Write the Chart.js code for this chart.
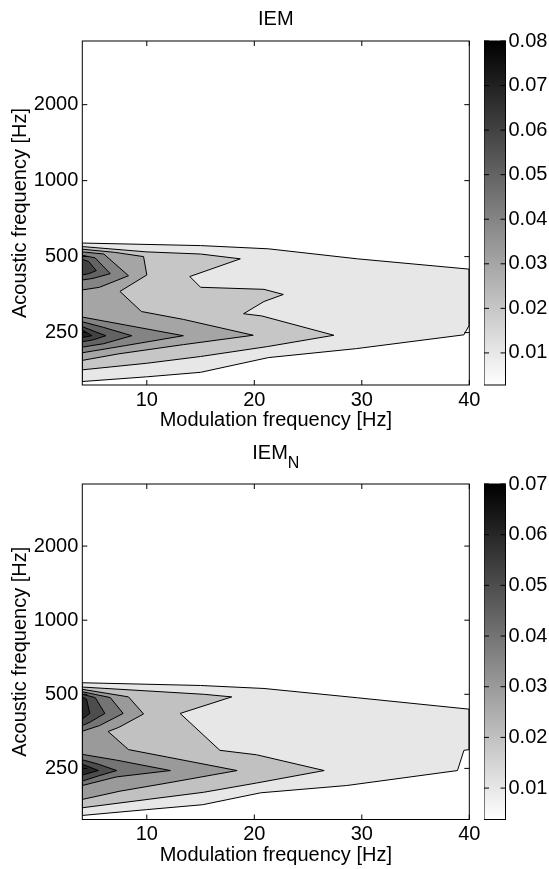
<!DOCTYPE html>
<html>
<head>
<meta charset="utf-8">
<script src="https://cdn.jsdelivr.net/npm/chart.js@4/dist/chart.umd.min.js"></script>
<style>
  html, body { margin: 0; padding: 0; background: #fff; }
  #page { position: relative; width: 549px; height: 869px; }
  canvas { position: absolute; }
</style>
</head>
<body>
<div id="page">
  <canvas id="iem-map" width="549" height="434" style="left:0;top:0"></canvas>
  <canvas id="iem-bar" width="65" height="434" style="left:484px;top:0"></canvas>
  <canvas id="iemn-map" width="549" height="435" style="left:0;top:434px"></canvas>
  <canvas id="iemn-bar" width="65" height="435" style="left:484px;top:434px"></canvas>
</div>
<script>
// axes
const modTicks = [10, 20, 30, 40];
const freqTicks = [250, 500, 1000, 2000];
const modRange = [4, 40];
const freqRange = [155, 3575];

// colour scales
const iemColorRange = [0.0028, 0.08];
const iemColorTicks = [0.01, 0.02, 0.03, 0.04, 0.05, 0.06, 0.07, 0.08];
const iemNColorRange = [0.0038, 0.07];
const iemNColorTicks = [0.01, 0.02, 0.03, 0.04, 0.05, 0.06, 0.07];

// IEM contours, [modulation Hz, acoustic Hz]
const iemLevel1 = [[4,566],[15,553],[21.3,537],[29.6,490],[40,446],[40,268],[39.5,245],[29.5,216],[21.3,199],[15,174],[10,167],[4,160],[4,566]];
const iemLevel2 = [[4,548],[10,522],[15,512],[18.7,490],[14,417],[15,378],[20.9,371],[22.7,354],[20.9,332],[19,297],[20.7,291],[27.4,244],[21.2,220],[15,201],[10,189],[4,178],[4,548]];
const iemLevel3 = [[4,535],[7,520],[9.7,500],[10,423],[7.5,364],[9.5,303],[13.4,282],[19.9,244],[13.4,224],[7.4,206],[4,194],[4,535]];
const iemLevel4Upper = [[4,522],[6,512],[8.3,420],[5.6,378],[4,369],[4,522]];
const iemLevel4Lower = [[4,288],[8,268],[13.4,243],[8,222],[4,208],[4,288]];
const iemLevel5Upper = [[4,506],[5.2,494],[6.6,428],[5,410],[4,404],[4,506]];
const iemLevel5Lower = [[4,276],[6,262],[8.6,243],[6,226],[4,219],[4,276]];
const iemLevel6Upper = [[4,488],[4.6,478],[5.3,440],[4.6,428],[4,423],[4,488]];
const iemLevel6Lower = [[4,264],[5,254],[6.2,243],[5,234],[4,230],[4,264]];
const iemLevel7Lower = [[4,256],[4.9,243],[4,239],[4,256]];

// IEM_N contours
const iemNLevel1 = [[4,557],[15,543],[20.9,528],[29.6,484],[40,435],[40,298],[39.5,296],[38.9,245],[28.6,213],[20.6,199],[15.2,178],[10,170],[4,161],[4,557]];
const iemNLevel2 = [[4,535],[15.3,500],[17.9,488],[13.1,418],[16.8,296],[20.2,284],[26.5,245],[20.2,218],[15.3,200],[4,173],[4,535]];
const iemNLevel3 = [[4,524],[8.3,488],[9.7,416],[7.4,367],[6.4,353],[8.3,298],[11.9,278],[18.4,245],[11.9,218],[7.5,202],[4,187],[4,524]];
const iemNLevel4Upper = [[4,512],[6.6,485],[7.8,418],[5.6,373],[4,354],[4,512]];
const iemNLevel4Lower = [[4,285],[7.2,270],[12.2,245],[7.2,231],[4,213],[4,285]];
const iemNLevel5Upper = [[4,500],[5.2,485],[6.1,418],[4.7,385],[4,373],[4,500]];
const iemNLevel5Lower = [[4,271],[5.5,260],[7.2,245],[5.5,233],[4,222],[4,271]];
const iemNLevel6Upper = [[4,488],[4.4,477],[4.7,418],[4,397],[4,488]];
const iemNLevel6Lower = [[4,260],[5.5,245],[4,235],[4,260]];

const iemContours = [
  { level: 0.01, polys: [iemLevel1] },
  { level: 0.02, polys: [iemLevel2] },
  { level: 0.03, polys: [iemLevel3] },
  { level: 0.04, polys: [iemLevel4Upper, iemLevel4Lower] },
  { level: 0.05, polys: [iemLevel5Upper, iemLevel5Lower] },
  { level: 0.06, polys: [iemLevel6Upper, iemLevel6Lower] },
  { level: 0.07, polys: [iemLevel7Lower] }
];
const iemNContours = [
  { level: 0.01, polys: [iemNLevel1] },
  { level: 0.02, polys: [iemNLevel2] },
  { level: 0.03, polys: [iemNLevel3] },
  { level: 0.04, polys: [iemNLevel4Upper, iemNLevel4Lower] },
  { level: 0.05, polys: [iemNLevel5Upper, iemNLevel5Lower] },
  { level: 0.06, polys: [iemNLevel6Upper, iemNLevel6Lower] }
];

Chart.defaults.font.family = "'Liberation Sans', Arial, sans-serif";
Chart.defaults.font.size = 20;
Chart.defaults.color = "#000";

// flipped gray colormap, white at the low end
function grayFor(value, range) {
  const t = Math.min(1, Math.max(0, (value - range[0]) / (range[1] - range[0])));
  const g = Math.round(255 * (1 - t));
  return "rgb(" + g + "," + g + "," + g + ")";
}

// box, inward tick marks and the (sub-scripted) title
function axisFrame(tickScales, title, sub) {
  return {
    id: "axisFrame",
    afterDraw(chart) {
      const ctx = chart.ctx;
      const a = chart.chartArea;
      const len = 5;
      ctx.save();
      ctx.strokeStyle = "#000";
      ctx.lineWidth = 1;
      ctx.strokeRect(a.left, a.top, a.right - a.left, a.bottom - a.top);
      ctx.beginPath();
      tickScales.forEach(id => {
        const scale = chart.scales[id];
        scale.ticks.forEach(t => {
          const p = scale.getPixelForValue(t.value);
          if (scale.isHorizontal()) {
            ctx.moveTo(p, a.bottom); ctx.lineTo(p, a.bottom - len);
            ctx.moveTo(p, a.top); ctx.lineTo(p, a.top + len);
          } else {
            ctx.moveTo(a.left, p); ctx.lineTo(a.left + len, p);
            ctx.moveTo(a.right, p); ctx.lineTo(a.right - len, p);
          }
        });
      });
      ctx.stroke();

      if (title) {
        ctx.fillStyle = "#000";
        ctx.textBaseline = "alphabetic";
        ctx.textAlign = "left";
        ctx.font = "20px 'Liberation Sans', Arial, sans-serif";
        const w1 = ctx.measureText(title).width;
        let w2 = 0;
        if (sub) {
          ctx.font = "16px 'Liberation Sans', Arial, sans-serif";
          w2 = ctx.measureText(sub).width;
        }
        const x0 = (a.left + a.right) / 2 - (w1 + w2) / 2;
        ctx.font = "20px 'Liberation Sans', Arial, sans-serif";
        ctx.fillText(title, x0, 25.3);
        if (sub) {
          ctx.font = "16px 'Liberation Sans', Arial, sans-serif";
          ctx.fillText(sub, x0 + w1, 34.3);
        }
      }
      ctx.restore();
    }
  };
}

function buildContourChart(canvasId, contours, colorRange, title, sub, topPad, plotHeight) {
  const datasets = [];
  contours.forEach((lev, i) => {
    lev.polys.forEach(poly => {
      datasets.push({
        data: poly.map(p => ({ x: p[0], y: p[1] })),
        showLine: true,
        fill: "shape",
        backgroundColor: grayFor(lev.level, colorRange),
        borderColor: "#000",
        borderWidth: 1,
        pointRadius: 0,
        tension: 0,
        order: contours.length - i
      });
    });
  });

  const canvas = document.getElementById(canvasId);
  const xAxisHeight = canvas.height - topPad - plotHeight;

  return new Chart(canvas, {
    type: "scatter",
    data: { datasets: datasets },
    options: {
      responsive: false,
      animation: false,
      events: [],
      layout: { padding: { top: topPad, right: 549 - 469.3, left: 0, bottom: 0 } },
      plugins: { legend: { display: false }, tooltip: { enabled: false } },
      scales: {
        x: {
          type: "linear",
          min: modRange[0],
          max: modRange[1],
          afterBuildTicks: s => { s.ticks = modTicks.map(v => ({ value: v })); },
          afterFit: s => { s.height = xAxisHeight; },
          grid: { display: false, drawTicks: false },
          border: { display: false },
          ticks: { padding: 3, maxRotation: 0, autoSkip: false },
          title: { display: true, text: "Modulation frequency [Hz]", padding: { top: 0, bottom: 2 } }
        },
        y: {
          type: "logarithmic",
          min: freqRange[0],
          max: freqRange[1],
          afterBuildTicks: s => { s.ticks = freqTicks.map(v => ({ value: v })); },
          afterFit: s => { s.width = 82.3; },
          grid: { display: false, drawTicks: false },
          border: { display: false },
          ticks: { padding: 4, autoSkip: false, callback: v => String(v) },
          title: { display: true, text: "Acoustic frequency [Hz]", padding: { top: 8, bottom: 0 } }
        }
      }
    },
    plugins: [axisFrame(["x", "y"], title, sub)]
  });
}

function buildColorBar(canvasId, colorRange, colorTicks, topPad, plotHeight) {
  const canvas = document.getElementById(canvasId);
  const barWidth = 21.5;

  return new Chart(canvas, {
    type: "bar",
    data: {
      labels: [""],
      datasets: [{
        data: [[colorRange[0], colorRange[1]]],
        barPercentage: 1,
        categoryPercentage: 1,
        borderWidth: 0,
        backgroundColor: context => {
          const area = context.chart.chartArea;
          if (!area) return "#888";
          const g = context.chart.ctx.createLinearGradient(0, area.bottom, 0, area.top);
          g.addColorStop(0, "#ffffff");
          g.addColorStop(1, "#000000");
          return g;
        }
      }]
    },
    options: {
      responsive: false,
      animation: false,
      events: [],
      layout: { padding: { top: topPad, bottom: canvas.height - topPad - plotHeight, left: 0, right: 0 } },
      plugins: { legend: { display: false }, tooltip: { enabled: false } },
      scales: {
        x: { display: false },
        y: {
          position: "right",
          min: colorRange[0],
          max: colorRange[1],
          afterBuildTicks: s => { s.ticks = colorTicks.map(v => ({ value: v })); },
          afterFit: s => { s.width = canvas.width - barWidth; },
          grid: { display: false, drawTicks: false },
          border: { display: false },
          ticks: { padding: 3, autoSkip: false, callback: v => Number(v).toFixed(2) }
        }
      }
    },
    plugins: [axisFrame(["y"], null, null)]
  });
}

buildContourChart("iem-map", iemContours, iemColorRange, "IEM", null, 41, 344);
buildColorBar("iem-bar", iemColorRange, iemColorTicks, 41, 344);
buildContourChart("iemn-map", iemNContours, iemNColorRange, "IEM", "N", 50, 335.5);
buildColorBar("iemn-bar", iemNColorRange, iemNColorTicks, 50, 335.5);
</script>
</body>
</html>
